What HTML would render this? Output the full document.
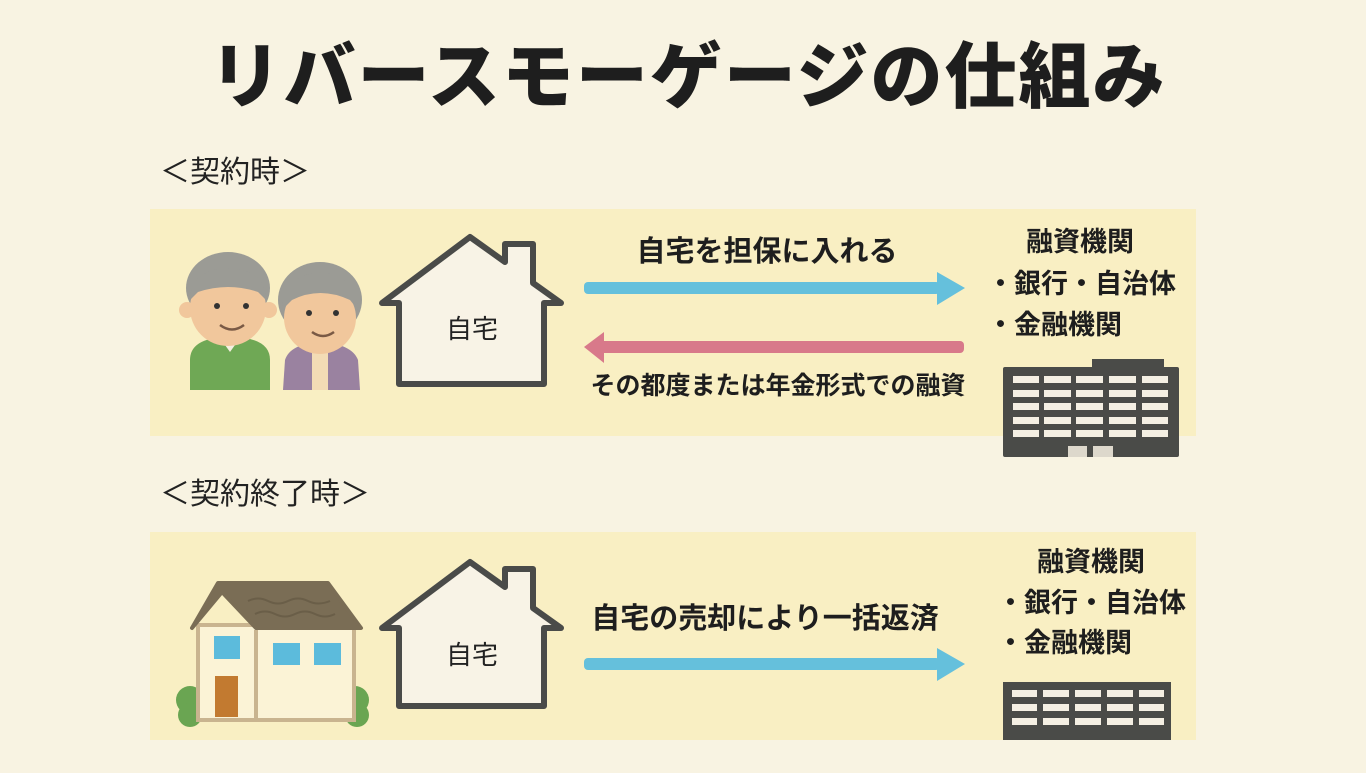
<!DOCTYPE html>
<html><head><meta charset="utf-8"><style>
html,body{margin:0;padding:0;}
body{width:1366px;height:768px;overflow:hidden;background:#f8f3e2;font-family:"Liberation Sans","Noto Sans CJK JP",sans-serif;}
svg text{font-family:"Liberation Sans","Noto Sans CJK JP",sans-serif;}
</style></head><body>
<svg width="1366" height="768" viewBox="0 0 1366 768" xmlns="http://www.w3.org/2000/svg">
<rect width="1366" height="768" fill="#f8f3e2"/>
<text x="688" y="102" text-anchor="middle" font-size="72" font-weight="900" fill="#1e1e1e" letter-spacing="2">リバースモーゲージの仕組み</text>
<text x="160" y="182" font-size="30" fill="#222">＜契約時＞</text>
<text x="160" y="504" font-size="30" fill="#222">＜契約終了時＞</text>

<rect x="150" y="209" width="1046" height="227" fill="#f9efc3"/>
<rect x="150" y="532" width="1046" height="208" fill="#f9efc3"/>

<g>
<path d="M190,390 L190,360 Q190,342 215,338 L245,338 Q270,342 270,360 L270,390 Z" fill="#6fa855"/>
<path d="M220,338 L230,352 L240,338 Z" fill="#f5efe0"/>
<ellipse cx="228" cy="288" rx="42" ry="36" fill="#9b9b95"/>
<circle cx="187" cy="310" r="8" fill="#f1c79c"/>
<circle cx="269" cy="310" r="8" fill="#f1c79c"/>
<ellipse cx="228" cy="308" rx="38" ry="38" fill="#f1c79c"/>
<path d="M190,300 Q190,270 228,268 Q266,270 266,300 L258,292 Q228,282 198,292 Z" fill="#9b9b95"/>
<circle cx="217" cy="306" r="3" fill="#333"/><circle cx="246" cy="306" r="3" fill="#333"/>
<path d="M220,325 Q232,334 244,325" stroke="#7a5a45" stroke-width="2.5" fill="none"/>
<path d="M283,390 L285,360 Q290,344 320,342 Q352,344 358,360 L360,390 Z" fill="#9a82a0"/>
<rect x="312" y="350" width="16" height="40" fill="#f3dcb5"/>
<ellipse cx="320" cy="300" rx="42" ry="38" fill="#9b9b95"/>
<ellipse cx="320" cy="318" rx="36" ry="36" fill="#f1c79c"/>
<path d="M282,310 Q284,275 320,272 Q356,275 358,310 L350,300 Q320,286 292,300 Z" fill="#9b9b95"/>
<circle cx="309" cy="313" r="3" fill="#333"/><circle cx="336" cy="313" r="3" fill="#333"/>
<path d="M312,332 Q323,340 334,332" stroke="#7a5a45" stroke-width="2.5" fill="none"/>
</g>

<path d="M382,303 L470,237 L505,262 L505,244 L533,244 L533,283 L561,303 L544,303 L544,384 L399,384 L399,303 Z" fill="#f8f3e6" stroke="#4a4b49" stroke-width="6" stroke-linejoin="round"/>
<text x="472" y="338" text-anchor="middle" font-size="26" fill="#222">自宅</text>
<path d="M382,628 L470,562 L505,587 L505,569 L533,569 L533,608 L561,628 L544,628 L544,706 L399,706 L399,628 Z" fill="#f8f3e6" stroke="#4a4b49" stroke-width="6" stroke-linejoin="round"/>
<text x="472" y="664" text-anchor="middle" font-size="26" fill="#222">自宅</text>

<text x="767" y="261" text-anchor="middle" font-size="29" font-weight="bold" fill="#1e1e1e">自宅を担保に入れる</text>
<rect x="584" y="282" width="356" height="12" rx="4" fill="#65c0dc"/>
<path d="M937,272 L965,288 L937,305 Z" fill="#65c0dc"/>
<rect x="600" y="341" width="364" height="12" rx="4" fill="#d8798a"/>
<path d="M604,332 L584,347 L604,363 Z" fill="#d8798a"/>
<text x="778" y="394" text-anchor="middle" font-size="25" font-weight="bold" fill="#1e1e1e">その都度または年金形式での融資</text>

<g font-size="27" font-weight="bold" fill="#1e1e1e">
<text x="1026" y="251">融資機関</text>
<text x="987" y="293">・銀行・自治体</text>
<text x="987" y="334">・金融機関</text>
</g>
<g>
<rect x="1092" y="359" width="72" height="12" fill="#4a4b48"/>
<rect x="1003" y="367" width="176" height="90" rx="2" fill="#4a4b48"/>
<g fill="#f4efe3">
<rect x="1013" y="376" width="26" height="7"/><rect x="1044" y="376" width="27" height="7"/><rect x="1076" y="376" width="27" height="7"/><rect x="1109" y="376" width="27" height="7"/><rect x="1142" y="376" width="26" height="7"/>
<rect x="1013" y="390" width="26" height="7"/><rect x="1044" y="390" width="27" height="7"/><rect x="1076" y="390" width="27" height="7"/><rect x="1109" y="390" width="27" height="7"/><rect x="1142" y="390" width="26" height="7"/>
<rect x="1013" y="403" width="26" height="7"/><rect x="1044" y="403" width="27" height="7"/><rect x="1076" y="403" width="27" height="7"/><rect x="1109" y="403" width="27" height="7"/><rect x="1142" y="403" width="26" height="7"/>
<rect x="1013" y="417" width="26" height="7"/><rect x="1044" y="417" width="27" height="7"/><rect x="1076" y="417" width="27" height="7"/><rect x="1109" y="417" width="27" height="7"/><rect x="1142" y="417" width="26" height="7"/>
<rect x="1013" y="430" width="26" height="7"/><rect x="1044" y="430" width="27" height="7"/><rect x="1076" y="430" width="27" height="7"/><rect x="1109" y="430" width="27" height="7"/><rect x="1142" y="430" width="26" height="7"/>
</g>
<rect x="1068" y="446" width="19" height="11" fill="#ddd8cc"/><rect x="1093" y="446" width="20" height="11" fill="#ddd8cc"/>
</g>

<g>
<circle cx="190" cy="700" r="14" fill="#6aa552"/><circle cx="190" cy="715" r="12" fill="#6aa552"/>
<circle cx="355" cy="700" r="14" fill="#6aa552"/><circle cx="357" cy="715" r="12" fill="#6aa552"/>
<rect x="198" y="625" width="156" height="95" fill="#fbf3d6" stroke="#c9b48f" stroke-width="4"/>
<line x1="256" y1="630" x2="256" y2="720" stroke="#c9b48f" stroke-width="4"/>
<path d="M218,583 L328,583 L361,628 L256,628 L222,592 L192,628 Z" fill="#7a6d55" stroke="#7a6d55" stroke-width="4" stroke-linejoin="round"/>
<path d="M248,601 Q258,596 268,601 Q278,606 288,601 Q298,596 308,601 Q318,606 330,601 M255,614 Q265,609 275,614 Q285,619 295,614 Q305,609 315,614 Q325,619 335,614" stroke="#6a5e48" stroke-width="2" fill="none"/>
<rect x="214" y="636" width="26" height="23" fill="#5cbbdc"/>
<rect x="273" y="643" width="27" height="22" fill="#5cbbdc"/>
<rect x="314" y="643" width="27" height="22" fill="#5cbbdc"/>
<rect x="215" y="676" width="23" height="41" fill="#c27a30"/>
</g>

<text x="765" y="628" text-anchor="middle" font-size="29" font-weight="bold" fill="#1e1e1e">自宅の売却により一括返済</text>
<rect x="584" y="658" width="356" height="12" rx="4" fill="#65c0dc"/>
<path d="M937,648 L965,664 L937,681 Z" fill="#65c0dc"/>

<g font-size="27" font-weight="bold" fill="#1e1e1e">
<text x="1037" y="571">融資機関</text>
<text x="997" y="612">・銀行・自治体</text>
<text x="997" y="652">・金融機関</text>
</g>
<g>
<rect x="1003" y="682" width="168" height="58" fill="#4a4b48"/>
<g fill="#f4efe3">
<rect x="1012" y="690" width="25" height="7"/><rect x="1043" y="690" width="26" height="7"/><rect x="1075" y="690" width="26" height="7"/><rect x="1107" y="690" width="26" height="7"/><rect x="1139" y="690" width="25" height="7"/>
<rect x="1012" y="704" width="25" height="7"/><rect x="1043" y="704" width="26" height="7"/><rect x="1075" y="704" width="26" height="7"/><rect x="1107" y="704" width="26" height="7"/><rect x="1139" y="704" width="25" height="7"/>
<rect x="1012" y="718" width="25" height="7"/><rect x="1043" y="718" width="26" height="7"/><rect x="1075" y="718" width="26" height="7"/><rect x="1107" y="718" width="26" height="7"/><rect x="1139" y="718" width="25" height="7"/>
</g>
</g>
<rect x="0" y="740" width="1366" height="28" fill="#f8f3e2"/>
</svg>
</body></html>
